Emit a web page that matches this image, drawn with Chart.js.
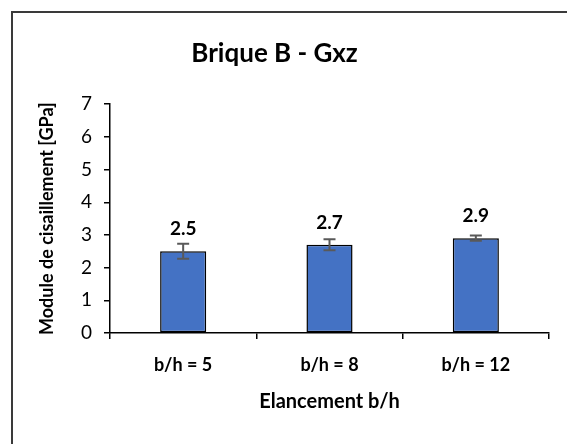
<!DOCTYPE html>
<html>
<head>
<meta charset="utf-8">
<script src="https://cdn.jsdelivr.net/npm/chart.js@4.4.1/dist/chart.umd.min.js"></script>
<style>
  html, body { margin: 0; padding: 0; background: #fff; overflow: hidden; }
  #chart { display: block; }
</style>
</head>
<body>
<canvas id="chart" width="567" height="444"></canvas>
<script>
// Shear modulus per slenderness ratio
const categories = ['b/h = 5', 'b/h = 8', 'b/h = 12'];
const shearModulus = [2.5, 2.7, 2.9];
const errorMargin = [0.23, 0.17, 0.08];
const yTicks = [0, 1, 2, 3, 4, 5, 6, 7];

const FONT = 'Lato, "Open Sans", sans-serif';

// white background plus the frame on the top and left edges
const framePlugin = {
    id: 'frame',
    beforeDraw(chart) {
        const ctx = chart.ctx;
        ctx.save();
        ctx.fillStyle = '#fff';
        ctx.fillRect(0, 0, chart.width, chart.height);
        ctx.strokeStyle = '#3a3a3a';
        ctx.lineWidth = 2;
        ctx.beginPath();
        ctx.moveTo(12, chart.height);
        ctx.lineTo(12, 12);
        ctx.lineTo(chart.width, 12);
        ctx.stroke();
        ctx.restore();
    }
};

// error whiskers and value labels above each bar
const barExtrasPlugin = {
    id: 'barExtras',
    afterDatasetsDraw(chart) {
        const ctx = chart.ctx;
        const y = chart.scales.y;
        const meta = chart.getDatasetMeta(0);
        ctx.save();
        meta.data.forEach((bar, i) => {
            const v = shearModulus[i];
            const e = errorMargin[i];
            const top = y.getPixelForValue(v + e);
            const bottom = y.getPixelForValue(v - e);
            ctx.strokeStyle = '#595959';
            ctx.lineWidth = 2;
            ctx.beginPath();
            ctx.moveTo(bar.x, top);
            ctx.lineTo(bar.x, bottom);
            ctx.moveTo(bar.x - 6, top);
            ctx.lineTo(bar.x + 6, top);
            ctx.moveTo(bar.x - 6, bottom);
            ctx.lineTo(bar.x + 6, bottom);
            ctx.stroke();

            ctx.fillStyle = '#000';
            ctx.font = 'bold 19px ' + FONT;
            ctx.textAlign = 'center';
            ctx.textBaseline = 'alphabetic';
            ctx.fillText(v.toFixed(1), bar.x, y.getPixelForValue(v) - 16);
        });
        ctx.restore();
    }
};

new Chart(document.getElementById('chart'), {
    type: 'bar',
    data: {
        labels: categories,
        datasets: [{
            data: shearModulus,
            backgroundColor: '#4472C4',
            borderColor: '#000',
            borderWidth: 1.5,
            borderSkipped: false,
            categoryPercentage: 1,
            barPercentage: 0.315
        }]
    },
    options: {
        responsive: false,
        animation: false,
        layout: { padding: { left: 0, right: 18, top: 0, bottom: 0 } },
        plugins: {
            legend: { display: false },
            tooltip: { enabled: false },
            title: {
                display: true,
                text: 'Brique B - Gxz',
                color: '#000',
                font: { family: FONT, size: 26, weight: 'bold', lineHeight: 1.2 },
                padding: { top: 38, bottom: 35 }
            }
        },
        scales: {
            x: {
                afterFit(scale) { scale.height = 111; },
                border: { color: '#000', width: 1.5 },
                grid: { display: true, drawOnChartArea: false, drawTicks: true, tickLength: 6, color: '#000', lineWidth: 1.5 },
                ticks: { color: '#000', padding: 15, font: { family: FONT, size: 18, weight: 'bold' } },
                title: {
                    display: true,
                    text: 'Elancement b/h',
                    color: '#000',
                    font: { family: FONT, size: 20, weight: 'bold', lineHeight: 1.2 },
                    padding: { top: 0, bottom: 30 }
                }
            },
            y: {
                min: 0,
                max: 7,
                afterFit(scale) { scale.width = 110; },
                afterBuildTicks(scale) { scale.ticks = yTicks.map(v => ({ value: v })); },
                border: { color: '#000', width: 1.5 },
                grid: { display: true, drawOnChartArea: false, drawTicks: true, tickLength: 6, color: '#000', lineWidth: 1.5 },
                ticks: { color: '#000', padding: 12, font: { family: FONT, size: 19 } },
                title: {
                    display: true,
                    text: 'Module de cisaillement [GPa]',
                    color: '#000',
                    font: { family: FONT, size: 18, weight: 'bold', lineHeight: 1.2 },
                    padding: { top: 36, bottom: 0 }
                }
            }
        }
    },
    plugins: [framePlugin, barExtrasPlugin]
});
</script>
</body>
</html>
